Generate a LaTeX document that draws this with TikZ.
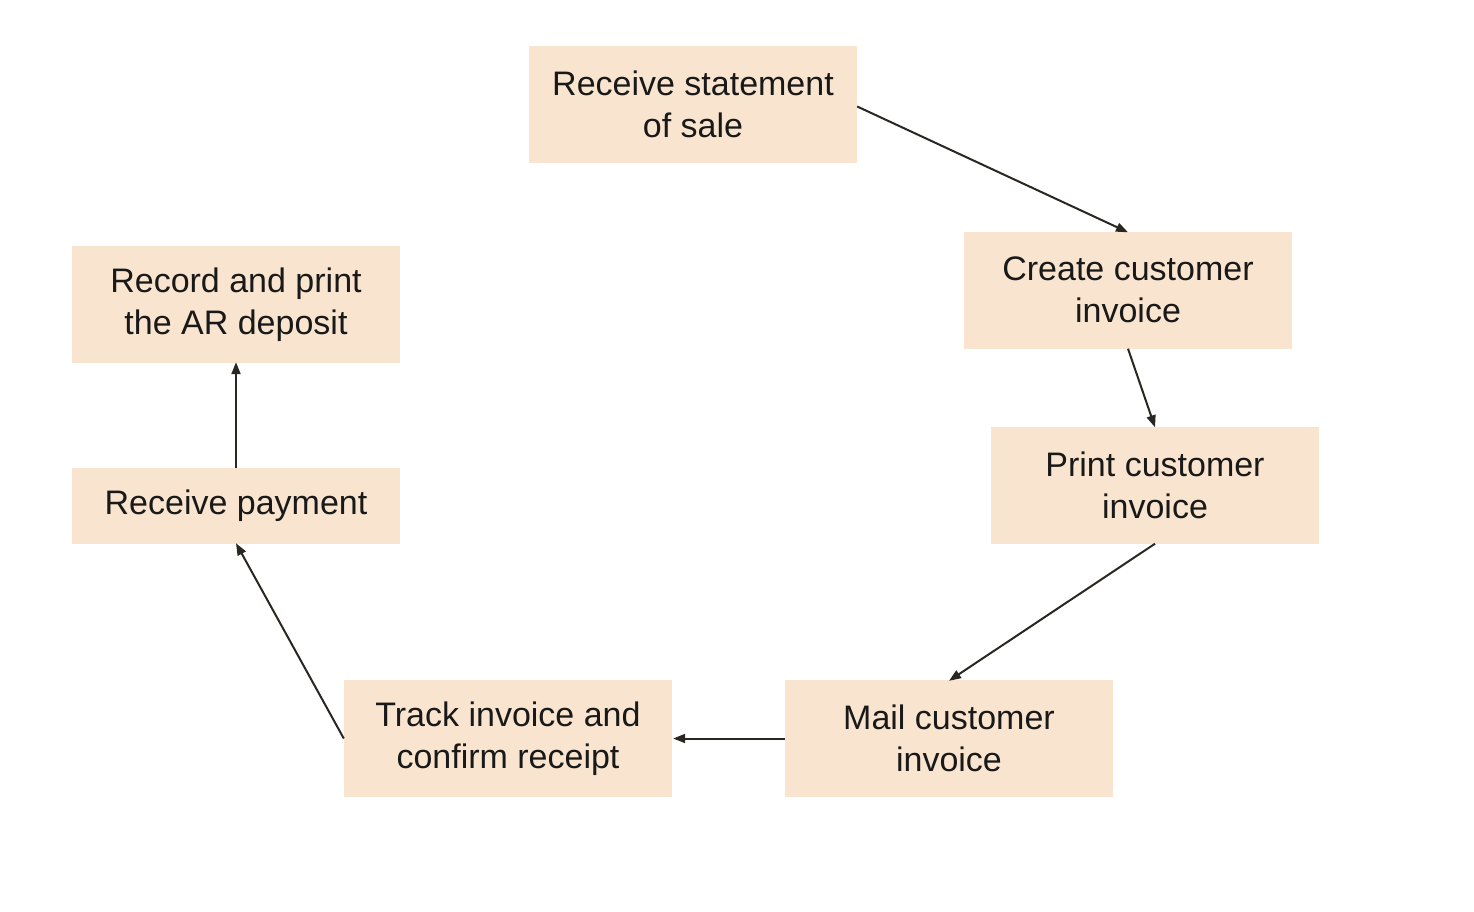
\documentclass[tikz,border=0pt]{standalone}
\usepackage{fontspec}
\setmainfont{Liberation Sans}
\usetikzlibrary{arrows.meta}
\definecolor{boxfill}{HTML}{F9E5CF}
\definecolor{linec}{HTML}{2A2622}
\begin{document}
\begin{tikzpicture}[x=1pt,y=-1pt,
  box/.style={fill=boxfill,draw=none,inner sep=0pt,minimum width=328pt,minimum height=117pt,
    align=center,font=\fontsize{34}{42}\selectfont,text=black!90},
  conn/.style={draw=linec,line width=2pt,-{Triangle[length=12pt,width=9pt]}}]
\useasboundingbox (0,0) rectangle (1474,912);
\node[box] (s1) at (693,104.5) {Receive statement\\of sale};
\node[box] (s2) at (1128,290) {Create customer\\invoice};
\node[box] (s3) at (1155,485) {Print customer\\invoice};
\node[box] (s4) at (949,738.5) {Mail customer\\invoice};
\node[box] (s5) at (508,738.5) {Track invoice and\\confirm receipt};
\node[box,minimum height=76pt] (s6) at (236,506) {Receive payment};
\node[box] (s7) at (236,304.5) {Record and print\\the AR deposit};
\draw[conn] (s1.east) ++(0,2) -- ([yshift=-1pt]s2.north);
\draw[conn] (s2.south) -- ([yshift=-1pt]s3.north);
\draw[conn] (s3.south) -- ([yshift=-1pt]s4.north);
\draw[conn] (s4.west) -- ([xshift=1pt]s5.east);
\draw[conn] (s5.west) -- ([yshift=1pt]s6.south);
\draw[conn] (s6.north) -- ([yshift=1pt]s7.south);
\end{tikzpicture}
\end{document}
